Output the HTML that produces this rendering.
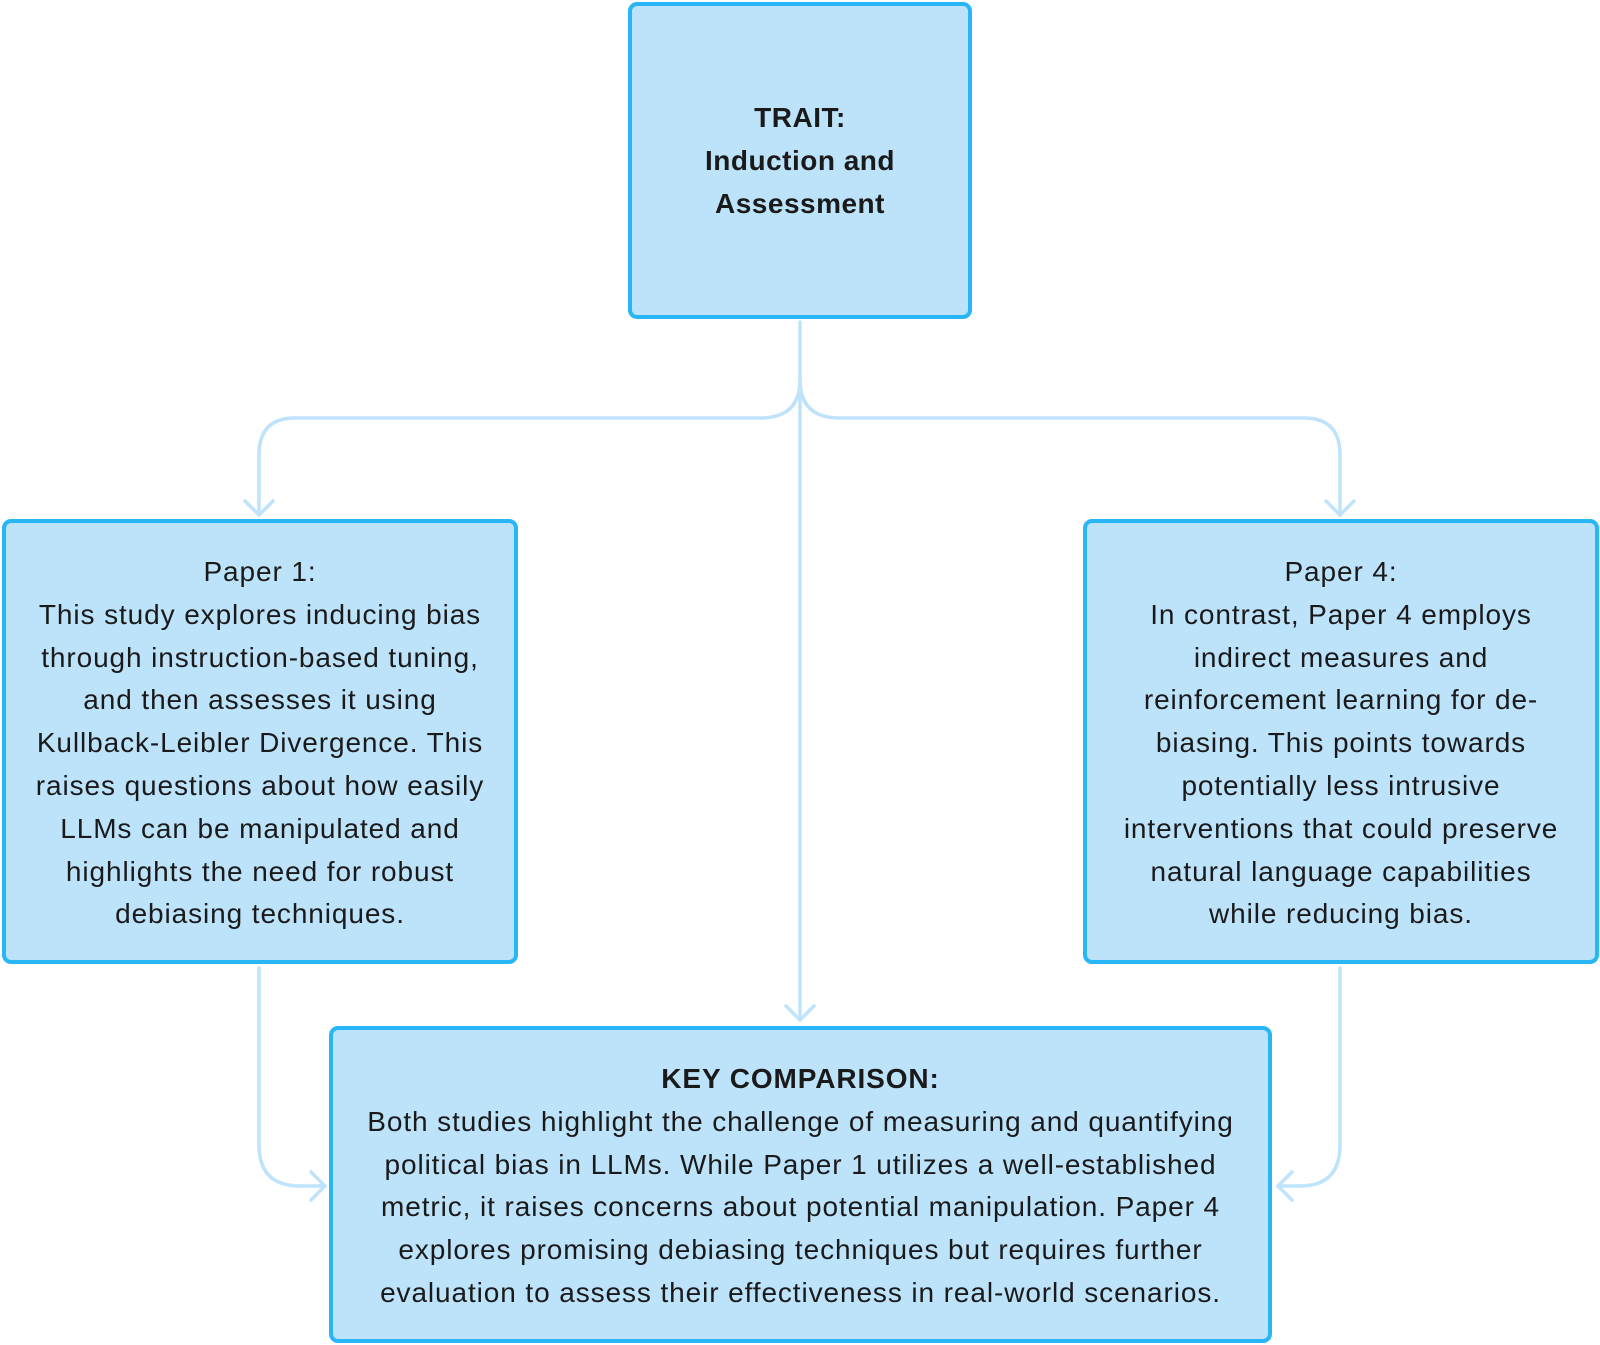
<!DOCTYPE html>
<html><head><meta charset="utf-8"><style>
html,body{margin:0;padding:0;background:#fff;}
body{width:1600px;height:1345px;position:relative;overflow:hidden;font-family:"Liberation Sans",sans-serif;color:#1a1a1a;}
.box{position:absolute;box-sizing:border-box;background:#bde3fb;border:4.5px solid #29b6f6;border-radius:9px;text-align:center;font-size:28px;letter-spacing:0.9px;line-height:42.8px;white-space:nowrap;}
svg{position:absolute;left:0;top:0;}
</style></head><body>
<svg width="1600" height="1345" viewBox="0 0 1600 1345" fill="none" stroke="#bfe3fb" stroke-width="3.5" stroke-linecap="round" stroke-linejoin="round">
<path d="M800 322 V1020"/>
<path d="M786 1006 L800 1020 L814 1006"/>
<path d="M800 380 Q800 418 760 418 H295 Q259 418 259 455 V515"/>
<path d="M245 501 L259 515 L273 501"/>
<path d="M800 380 Q800 418 840 418 H1304 Q1340 418 1340 455 V515"/>
<path d="M1326 501 L1340 515 L1354 501"/>
<path d="M259 968 V1145 Q259 1186 300 1186 H325"/>
<path d="M311 1172 L325 1186 L311 1200"/>
<path d="M1340 968 V1145 Q1340 1186 1300 1186 H1278"/>
<path d="M1292 1172 L1278 1186 L1292 1200"/>
</svg>
<div class="box" style="left:628px;top:2px;width:344px;height:317px;font-weight:bold;padding-top:91px;letter-spacing:0.5px;">TRAIT:<br>Induction and<br>Assessment</div>
<div class="box" style="left:2px;top:519px;width:516px;height:445px;padding-top:28px;">Paper 1:<br>This study explores inducing bias<br>through instruction-based tuning,<br>and then assesses it using<br>Kullback-Leibler Divergence. This<br>raises questions about how easily<br>LLMs can be manipulated and<br>highlights the need for robust<br>debiasing techniques.</div>
<div class="box" style="left:1083px;top:519px;width:516px;height:445px;padding-top:28px;">Paper 4:<br>In contrast, Paper 4 employs<br>indirect measures and<br>reinforcement learning for de-<br>biasing. This points towards<br>potentially less intrusive<br>interventions that could preserve<br>natural language capabilities<br>while reducing bias.</div>
<div class="box" style="left:329px;top:1026px;width:943px;height:317px;padding-top:28px;"><b>KEY COMPARISON:</b><br>Both studies highlight the challenge of measuring and quantifying<br>political bias in LLMs. While Paper 1 utilizes a well-established<br>metric, it raises concerns about potential manipulation. Paper 4<br>explores promising debiasing techniques but requires further<br>evaluation to assess their effectiveness in real-world scenarios.</div>
</body></html>
